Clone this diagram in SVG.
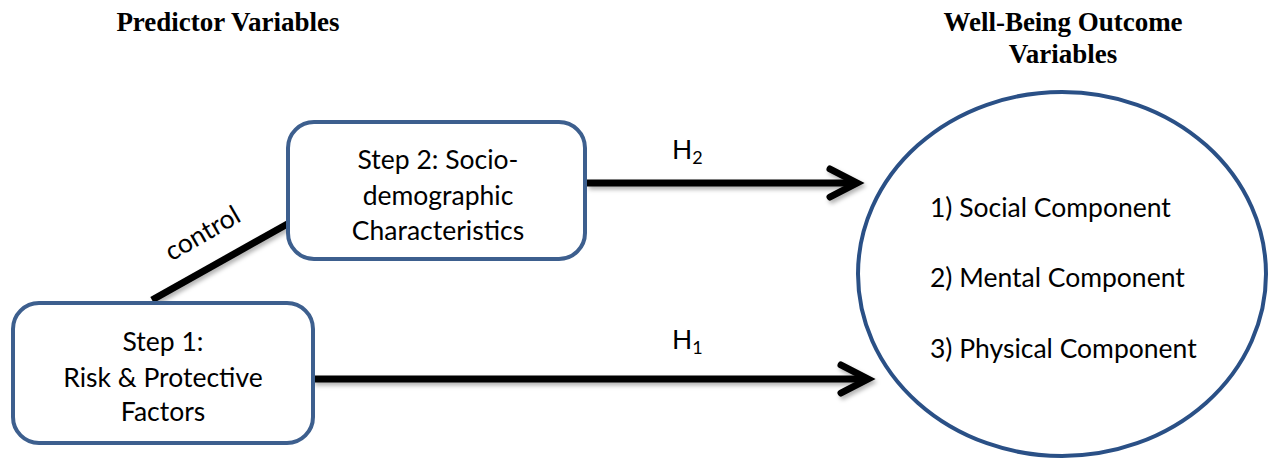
<svg xmlns="http://www.w3.org/2000/svg" width="1268" height="460" viewBox="0 0 1268 460">
<style>
.title{font-family:"Liberation Serif","Times New Roman",serif;font-weight:bold;font-size:27px;fill:#000;text-anchor:middle}
.lbl{font-family:Lato,"Liberation Sans",sans-serif;font-size:26.5px;fill:#000}
.mid{text-anchor:middle}
.box{fill:#fff;stroke:#3d5f8e;stroke-width:4}
.ell{fill:#fff;stroke:#2a5086;stroke-width:4}
.conn{stroke:#000;stroke-width:7;fill:none}
.head{stroke:#000;stroke-width:7;fill:none;stroke-linecap:round;stroke-linejoin:miter}
</style>
<defs>
<filter id="sh" x="-5%" y="-50%" width="110%" height="200%">
<feDropShadow dx="2" dy="3" stdDeviation="2" flood-color="#000" flood-opacity="0.3"/>
</filter>
</defs>
<rect width="1268" height="460" fill="#fff"/>
<text class="title" x="228" y="31">Predictor Variables</text>
<text class="title" x="1063" y="31">Well-Being Outcome</text>
<text class="title" x="1063" y="63">Variables</text>
<g id="connectors">
<g filter="url(#sh)">
<line class="conn" x1="152" y1="300" x2="291" y2="222"/>
<line class="conn" x1="587" y1="183" x2="856" y2="183"/>
<polyline class="head" points="830,169 857,183 830,197"/>
<line class="conn" x1="313" y1="379" x2="867" y2="379"/>
<polyline class="head" points="841,365 868,379 841,393"/>
</g>
<text class="lbl" font-size="22" transform="translate(207,241) rotate(-30)" text-anchor="middle">control</text>
<text class="lbl" x="672" y="159">H<tspan font-size="18" dy="5">2</tspan></text>
<text class="lbl" x="672" y="349">H<tspan font-size="18" dy="5">1</tspan></text>
</g>
<g id="step2">
<rect class="box" x="288" y="122" width="297" height="137" rx="26"/>
<text class="lbl mid" x="438" y="169">Step 2: Socio-</text>
<text class="lbl mid" x="438" y="205">demographic</text>
<text class="lbl mid" x="438" y="240">Characteristics</text>
</g>
<g id="step1">
<rect class="box" x="13" y="303" width="300" height="140" rx="26"/>
<text class="lbl mid" x="163" y="351">Step 1:</text>
<text class="lbl mid" x="163" y="387">Risk &amp; Protective</text>
<text class="lbl mid" x="163" y="421">Factors</text>
</g>
<g id="outcomes">
<ellipse class="ell" cx="1062" cy="274" rx="204" ry="182"/>
<text class="lbl" x="930" y="217">1) Social Component</text>
<text class="lbl" x="930" y="287">2) Mental Component</text>
<text class="lbl" x="930" y="358">3) Physical Component</text>
</g>
</svg>
